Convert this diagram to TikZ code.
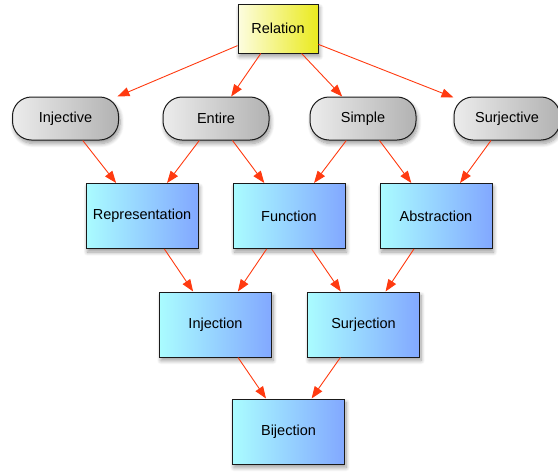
\documentclass[tikz,border=0pt]{standalone}
\usepackage{fontspec}
\setmainfont{Liberation Sans}
\usetikzlibrary{arrows.meta,shadows,shadows.blur}
\definecolor{relL}{HTML}{FDFDE0}
\definecolor{relR}{HTML}{EAEA1E}
\definecolor{blueL}{HTML}{AAFCFF}
\definecolor{blueR}{HTML}{82A8FF}
\definecolor{grayL}{HTML}{ECECEC}
\definecolor{grayR}{HTML}{B2B2B2}
\definecolor{arrowred}{HTML}{FF3A10}
\definecolor{edgegray}{HTML}{1A1A1A}
\tikzset{
  base/.style={draw=edgegray, line width=1pt, font=\fontsize{14.5}{17}\selectfont,
    blur shadow={shadow xshift=1.5pt, shadow yshift=-3.5pt, shadow opacity=40,
      shadow blur radius=4pt, shadow blur steps=8}},
  topbox/.style={base, rectangle, minimum width=80pt, minimum height=49pt,
    left color=relL, right color=relR},
  pill/.style={base, rectangle, rounded corners=19pt, minimum width=106pt, minimum height=43pt,
    left color=grayL, right color=grayR},
  mapbox/.style={base, rectangle, minimum width=112pt, minimum height=65pt,
    left color=blueL, right color=blueR},
  link/.style={draw=arrowred, line width=0.9pt, -{Triangle[length=12pt,width=9pt]}}
}
\begin{document}
\begin{tikzpicture}[x=1pt, y=-1pt]
\useasboundingbox (0,0) rectangle (558,472);
% top
\node[topbox] (rel) at (278,28.5) {Relation};
% properties
\node[pill] (inj) at (65.5,118.5) {Injective};
\node[pill] (ent) at (216,118.5) {Entire};
\node[pill] (sim) at (363,118.5) {Simple};
\node[pill] (sur) at (507,118.5) {Surjective};
% composite notions
\node[mapbox] (rep) at (142,216) {Representation};
\node[mapbox] (fun) at (289,216) {Function};
\node[mapbox] (abs) at (436,216) {Abstraction};
\node[mapbox] (injn) at (215.5,324.5) {Injection};
\node[mapbox] (surn) at (363.5,324.5) {Surjection};
\node[mapbox] (bij) at (288.5,431.5) {Bijection};
% connectors
\draw[link] (rel) -- (inj);
\draw[link] (rel) -- (ent);
\draw[link] (rel) -- (sim);
\draw[link] (rel) -- (sur);
\draw[link] (inj) -- (rep);
\draw[link] (ent) -- (rep);
\draw[link] (ent) -- (fun);
\draw[link] (sim) -- (fun);
\draw[link] (sim) -- (abs);
\draw[link] (sur) -- (abs);
\draw[link] (rep) -- (injn);
\draw[link] (fun) -- (injn);
\draw[link] (fun) -- (surn);
\draw[link] (abs) -- (surn);
\draw[link] (injn) -- (bij);
\draw[link] (surn) -- (bij);
\end{tikzpicture}
\end{document}
